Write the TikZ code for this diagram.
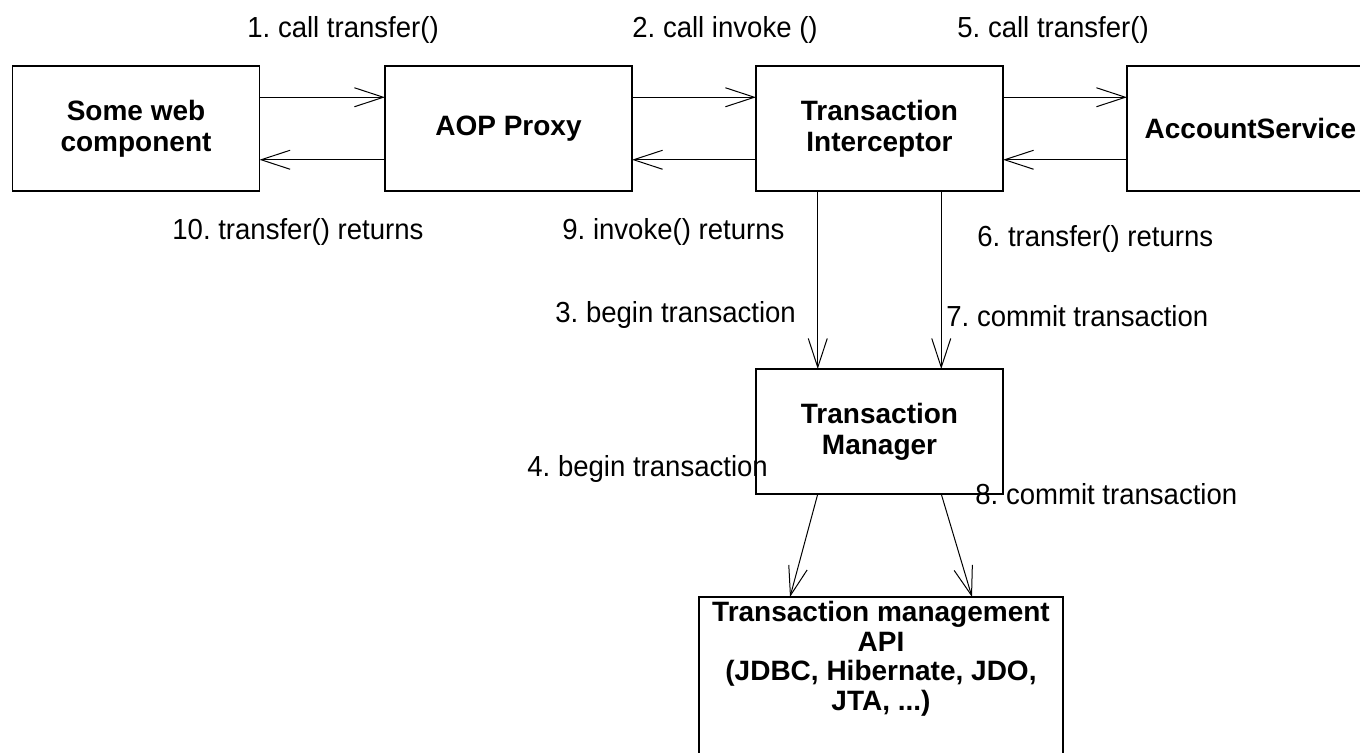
\documentclass[tikz,border=0pt]{standalone}
\usepackage{fontspec}
\setmainfont{Liberation Sans}
\newfontfamily\labfont{Liberation Sans}[FakeStretch=0.95]
\usetikzlibrary{arrows.meta,calc}
\frenchspacing
\tikzset{
  box/.style={draw, line width=0.7pt, outer sep=0pt, inner sep=0pt,
    minimum width=123.5pt, minimum height=62.5pt, align=center,
    font=\bfseries\fontsize{14}{15.5}\selectfont},
  lab/.style={anchor=base west, inner sep=0pt, font=\labfont\fontsize{14.5}{16}\selectfont},
  conn/.style={line width=0.5pt, -{Straight Barb[length=14.5pt,width=9.5pt,line width=0.5pt]}}
}
\begin{document}
\frenchspacing
\begin{tikzpicture}[x=0.5pt,y=-0.5pt]
\useasboundingbox (0,0) rectangle (1360,752);
\clip (0,0) rectangle (1360,752);
% boxes
\node[box] (web) at (136,128.5) {Some web\\component};
\node[box] (aop) at (508.5,128.5) {AOP Proxy};
\node[box] (int) at (879.5,128.5) {Transaction\\Interceptor};
\node[box] (acc) at (1250.5,128.5) {AccountService};
\node[box] (tm) at (879.5,431.5) {Transaction\\Manager};
\node[box, minimum width=182pt, minimum height=91.5pt] (api) at (881,688.5) {};
\node[align=center, inner sep=0pt, anchor=base, font=\bfseries\fontsize{14}{14.7}\selectfont]
  (apitext) at (881,710) {Transaction management\\API\\(JDBC, Hibernate, JDO,\\JTA, ...)};
% horizontal connectors
\draw[conn] ($(web.north east)!0.25!(web.south east)$) -- ($(aop.north west)!0.25!(aop.south west)$);
\draw[conn] ($(aop.north west)!0.75!(aop.south west)$) -- ($(web.north east)!0.75!(web.south east)$);
\draw[conn] ($(aop.north east)!0.25!(aop.south east)$) -- ($(int.north west)!0.25!(int.south west)$);
\draw[conn] ($(int.north west)!0.75!(int.south west)$) -- ($(aop.north east)!0.75!(aop.south east)$);
\draw[conn] ($(int.north east)!0.25!(int.south east)$) -- ($(acc.north west)!0.25!(acc.south west)$);
\draw[conn] ($(acc.north west)!0.75!(acc.south west)$) -- ($(int.north east)!0.75!(int.south east)$);
% vertical connectors
\draw[conn] ($(int.south west)!0.25!(int.south east)$) -- ($(tm.north west)!0.25!(tm.north east)$);
\draw[conn] ($(int.south west)!0.75!(int.south east)$) -- ($(tm.north west)!0.75!(tm.north east)$);
\draw[conn] ($(tm.south west)!0.25!(tm.south east)$) -- ($(api.north west)!0.25!(api.north east)$);
\draw[conn] ($(tm.south west)!0.75!(tm.south east)$) -- ($(api.north west)!0.75!(api.north east)$);
% labels
\node[lab] (l1) at (247,37) {1. call transfer()};
\node[lab] (l2) at (632,37) {2. call invoke ()};
\node[lab] (l5) at (957,37) {5. call transfer()};
\node[lab] (l10) at (172,239) {10. transfer() returns};
\node[lab] (l9) at (562,239) {9. invoke() returns};
\node[lab] (l6) at (977,246) {6. transfer() returns};
\node[lab] (l3) at (555,322) {3. begin transaction};
\node[lab] (l7) at (946,326) {7. commit transaction};
\node[lab] (l4) at (527,476) {4. begin transaction};
\node[lab] (l8) at (975,504) {8. commit transaction};
\end{tikzpicture}
\end{document}
